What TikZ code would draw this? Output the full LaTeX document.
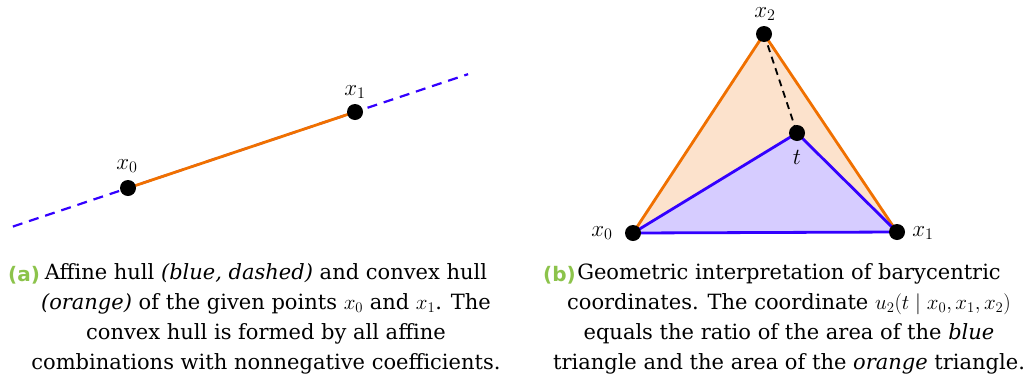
\RequirePackage{fix-cm}
\documentclass[tikz,border=0pt]{standalone}
\usepackage{fontspec}
\setmainfont{DejaVu Serif}
\setsansfont{DejaVu Sans}
\usetikzlibrary{calc}
\definecolor{hullblue}{RGB}{51,0,255}
\definecolor{hullorange}{RGB}{240,112,0}
\definecolor{capgreen}{RGB}{140,195,75}
\begin{document}
\begin{tikzpicture}[x=1pt,y=-1pt,
  dot/.style={circle,fill=black,inner sep=0pt,minimum size=16pt},
  lab/.style={inner sep=0pt,font=\fontsize{23}{27}\selectfont},
  affine/.style={hullblue,line width=2.2pt,dash pattern=on 10pt off 7pt},
  convexline/.style={hullorange,line width=2.8pt},
  blueline/.style={hullblue,line width=2.8pt},
  capnum/.style={inner sep=0pt,text=capgreen,font=\sffamily\bfseries\fontsize{20}{24}\selectfont,anchor=base west},
  captext/.style={inner sep=0pt,align=center,font=\fontsize{21}{30}\selectfont,anchor=north}
]
\useasboundingbox (0,0) rectangle (1032,381);
% ---------- (a)
\coordinate (a0) at (128,188);
\coordinate (a1) at (355,112);
\coordinate (aL) at ($(a0)!-0.507!(a1)$);
\coordinate (aR) at ($(a1)!-0.498!(a0)$);
\draw[affine] (aL) -- (aR);
\draw[convexline] (a0) -- (a1);
\node[dot] (p0) at (a0) {};
\node[dot] (p1) at (a1) {};
\node[lab] (l0) at (127,166) {$x_0$};
\node[lab] (l1) at (355,92) {$x_1$};
% ---------- (b)
\coordinate (b0) at (633,233);
\coordinate (b1) at (897,232);
\coordinate (b2) at (764,34);
\coordinate (bt) at (797,133);
\fill[hullorange!20] (b0) -- (b1) -- (b2) -- cycle;
\fill[hullblue!20] (b0) -- (b1) -- (bt) -- cycle;
\draw[convexline,line join=round] (b0) -- (b2) -- (b1);
\draw[black,line width=1.8pt,dash pattern=on 7pt off 5pt] (b2) -- (bt);
\draw[blueline,line join=round] (b1) -- (b0) -- (bt) -- (b1);
\node[dot] (q0) at (b0) {};
\node[dot] (q1) at (b1) {};
\node[dot] (q2) at (b2) {};
\node[dot] (qt) at (bt) {};
\node[lab] (m2) at (765,14) {$x_2$};
\node[lab] (m0) at (602,233) {$x_0$};
\node[lab] (m1) at (923,233) {$x_1$};
\node[lab] (mt) at (797,157) {$t$};
% ---------- captions
\node[capnum] (ca) at (8,281) {(a)};
\node[captext] (cta) at (266,263) {Affine hull \textit{(blue, dashed)} and convex hull\\
\textit{(orange)} of the given points $x_0$ and $x_1$. The\\
convex hull is formed by all affine\\
combinations with nonnegative coefficients.};
\node[capnum] (cb) at (543,281) {(b)};
\node[captext] (ctb) at (789,263) {Geometric interpretation of barycentric\\
coordinates. The coordinate $u_2(t\mid x_0,x_1,x_2)$\\
equals the ratio of the area of the \textit{blue}\\
triangle and the area of the \textit{orange} triangle.};
\end{tikzpicture}
\end{document}
